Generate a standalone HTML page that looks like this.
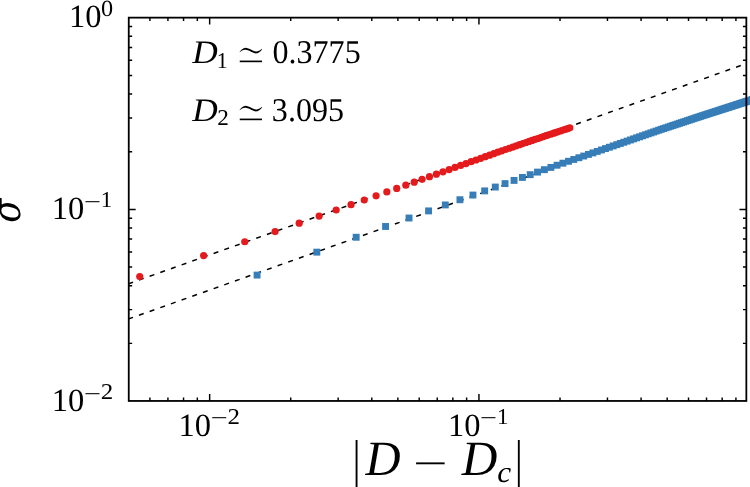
<!DOCTYPE html>
<html><head><meta charset="utf-8"><title>sigma vs |D - Dc|</title>
<style>html,body{margin:0;padding:0;background:#fff}svg{display:block}text{fill:#000;text-rendering:geometricPrecision}.r{font-family:"Liberation Serif",serif}.i{font-family:"Liberation Serif",serif;font-style:italic}.d{font-family:"Liberation Serif","DejaVu Serif","DejaVu Sans",serif}.di{font-family:"DejaVu Serif","Liberation Serif",serif;font-style:italic}</style>
</head><body>
<svg width="750" height="487" viewBox="0 0 750 487">
<rect width="750" height="487" fill="#fff"/>
<g stroke="#000" stroke-width="1.5" stroke-dasharray="5.0 6.32" fill="none">
<line x1="128.3" y1="283.88" x2="746.35" y2="63.54"/>
<line x1="128.3" y1="319.05" x2="746.35" y2="98.71"/>
</g>
<g fill="#e41a1c">
<circle cx="139.73" cy="276.50" r="3.6"/>
<circle cx="203.65" cy="255.62" r="3.6"/>
<circle cx="244.75" cy="241.77" r="3.6"/>
<circle cx="275.10" cy="231.54" r="3.6"/>
<circle cx="299.18" cy="223.21" r="3.6"/>
<circle cx="319.13" cy="216.10" r="3.6"/>
<circle cx="336.17" cy="210.02" r="3.6"/>
<circle cx="351.04" cy="204.72" r="3.6"/>
<circle cx="364.24" cy="200.02" r="3.6"/>
<circle cx="376.09" cy="195.79" r="3.6"/>
<circle cx="386.85" cy="191.95" r="3.6"/>
<circle cx="396.71" cy="188.44" r="3.6"/>
<circle cx="405.80" cy="185.18" r="3.6"/>
<circle cx="414.23" cy="182.14" r="3.6"/>
<circle cx="422.09" cy="179.31" r="3.6"/>
<circle cx="429.46" cy="176.66" r="3.6"/>
<circle cx="436.40" cy="174.16" r="3.6"/>
<circle cx="442.94" cy="171.80" r="3.6"/>
<circle cx="449.14" cy="169.57" r="3.6"/>
<circle cx="455.02" cy="167.45" r="3.6"/>
<circle cx="460.63" cy="165.45" r="3.6"/>
<circle cx="465.98" cy="163.55" r="3.6"/>
<circle cx="471.09" cy="161.72" r="3.6"/>
<circle cx="475.99" cy="159.98" r="3.6"/>
<circle cx="480.69" cy="158.30" r="3.6"/>
<circle cx="485.21" cy="156.69" r="3.6"/>
<circle cx="489.56" cy="155.14" r="3.6"/>
<circle cx="493.76" cy="153.64" r="3.6"/>
<circle cx="497.81" cy="152.20" r="3.6"/>
<circle cx="501.73" cy="150.82" r="3.6"/>
<circle cx="505.51" cy="149.52" r="3.6"/>
<circle cx="509.18" cy="148.26" r="3.6"/>
<circle cx="512.74" cy="147.03" r="3.6"/>
<circle cx="516.19" cy="145.85" r="3.6"/>
<circle cx="519.55" cy="144.69" r="3.6"/>
<circle cx="522.81" cy="143.59" r="3.6"/>
<circle cx="525.98" cy="142.51" r="3.6"/>
<circle cx="529.07" cy="141.46" r="3.6"/>
<circle cx="532.08" cy="140.44" r="3.6"/>
<circle cx="535.01" cy="139.45" r="3.6"/>
<circle cx="537.87" cy="138.48" r="3.6"/>
<circle cx="540.67" cy="137.54" r="3.6"/>
<circle cx="543.39" cy="136.62" r="3.6"/>
<circle cx="546.06" cy="135.72" r="3.6"/>
<circle cx="548.67" cy="134.84" r="3.6"/>
<circle cx="551.22" cy="133.99" r="3.6"/>
<circle cx="553.71" cy="133.14" r="3.6"/>
<circle cx="556.15" cy="132.33" r="3.6"/>
<circle cx="558.55" cy="131.54" r="3.6"/>
<circle cx="560.89" cy="130.76" r="3.6"/>
<circle cx="563.19" cy="130.00" r="3.6"/>
<circle cx="565.44" cy="129.26" r="3.6"/>
<circle cx="567.66" cy="128.53" r="3.6"/>
<circle cx="569.83" cy="127.81" r="3.6"/>
</g>
<g fill="#377eb8">
<rect x="253.62" y="271.64" width="6.9" height="6.9"/>
<rect x="313.37" y="248.69" width="6.9" height="6.9"/>
<rect x="352.72" y="233.81" width="6.9" height="6.9"/>
<rect x="382.11" y="223.03" width="6.9" height="6.9"/>
<rect x="405.58" y="214.57" width="6.9" height="6.9"/>
<rect x="425.12" y="207.45" width="6.9" height="6.9"/>
<rect x="441.85" y="201.49" width="6.9" height="6.9"/>
<rect x="456.49" y="196.27" width="6.9" height="6.9"/>
<rect x="469.50" y="191.61" width="6.9" height="6.9"/>
<rect x="481.21" y="187.42" width="6.9" height="6.9"/>
<rect x="491.85" y="183.61" width="6.9" height="6.9"/>
<rect x="501.60" y="180.15" width="6.9" height="6.9"/>
<rect x="510.60" y="176.96" width="6.9" height="6.9"/>
<rect x="518.96" y="173.99" width="6.9" height="6.9"/>
<rect x="526.76" y="171.22" width="6.9" height="6.9"/>
<rect x="534.07" y="168.65" width="6.9" height="6.9"/>
<rect x="540.95" y="166.23" width="6.9" height="6.9"/>
<rect x="547.45" y="163.95" width="6.9" height="6.9"/>
<rect x="553.61" y="161.78" width="6.9" height="6.9"/>
<rect x="559.46" y="159.75" width="6.9" height="6.9"/>
<rect x="565.03" y="157.84" width="6.9" height="6.9"/>
<rect x="570.34" y="156.01" width="6.9" height="6.9"/>
<rect x="575.43" y="154.26" width="6.9" height="6.9"/>
<rect x="580.30" y="152.59" width="6.9" height="6.9"/>
<rect x="584.98" y="150.98" width="6.9" height="6.9"/>
<rect x="589.48" y="149.44" width="6.9" height="6.9"/>
<rect x="593.81" y="147.95" width="6.9" height="6.9"/>
<rect x="597.99" y="146.51" width="6.9" height="6.9"/>
<rect x="602.02" y="145.13" width="6.9" height="6.9"/>
<rect x="605.92" y="143.79" width="6.9" height="6.9"/>
<rect x="609.70" y="142.49" width="6.9" height="6.9"/>
<rect x="613.35" y="141.22" width="6.9" height="6.9"/>
<rect x="616.89" y="140.00" width="6.9" height="6.9"/>
<rect x="620.33" y="138.81" width="6.9" height="6.9"/>
<rect x="623.68" y="137.66" width="6.9" height="6.9"/>
<rect x="626.93" y="136.54" width="6.9" height="6.9"/>
<rect x="630.09" y="135.45" width="6.9" height="6.9"/>
<rect x="633.16" y="134.38" width="6.9" height="6.9"/>
<rect x="636.16" y="133.35" width="6.9" height="6.9"/>
<rect x="639.09" y="132.34" width="6.9" height="6.9"/>
<rect x="641.94" y="131.35" width="6.9" height="6.9"/>
<rect x="644.73" y="130.39" width="6.9" height="6.9"/>
<rect x="647.45" y="129.45" width="6.9" height="6.9"/>
<rect x="650.10" y="128.53" width="6.9" height="6.9"/>
<rect x="652.70" y="127.64" width="6.9" height="6.9"/>
<rect x="655.25" y="126.76" width="6.9" height="6.9"/>
<rect x="657.73" y="125.91" width="6.9" height="6.9"/>
<rect x="660.17" y="125.11" width="6.9" height="6.9"/>
<rect x="662.56" y="124.32" width="6.9" height="6.9"/>
<rect x="664.90" y="123.54" width="6.9" height="6.9"/>
<rect x="667.19" y="122.78" width="6.9" height="6.9"/>
<rect x="669.44" y="122.03" width="6.9" height="6.9"/>
<rect x="671.65" y="121.30" width="6.9" height="6.9"/>
<rect x="673.81" y="120.58" width="6.9" height="6.9"/>
<rect x="675.94" y="119.88" width="6.9" height="6.9"/>
<rect x="678.03" y="119.19" width="6.9" height="6.9"/>
<rect x="680.08" y="118.51" width="6.9" height="6.9"/>
<rect x="682.10" y="117.84" width="6.9" height="6.9"/>
<rect x="684.08" y="117.18" width="6.9" height="6.9"/>
<rect x="686.03" y="116.54" width="6.9" height="6.9"/>
<rect x="687.94" y="115.90" width="6.9" height="6.9"/>
<rect x="689.83" y="115.27" width="6.9" height="6.9"/>
<rect x="691.69" y="114.66" width="6.9" height="6.9"/>
<rect x="693.51" y="114.05" width="6.9" height="6.9"/>
<rect x="695.31" y="113.46" width="6.9" height="6.9"/>
<rect x="697.09" y="112.87" width="6.9" height="6.9"/>
<rect x="698.83" y="112.31" width="6.9" height="6.9"/>
<rect x="700.55" y="111.76" width="6.9" height="6.9"/>
<rect x="702.25" y="111.21" width="6.9" height="6.9"/>
<rect x="703.92" y="110.67" width="6.9" height="6.9"/>
<rect x="705.56" y="110.14" width="6.9" height="6.9"/>
<rect x="707.19" y="109.62" width="6.9" height="6.9"/>
<rect x="708.79" y="109.10" width="6.9" height="6.9"/>
<rect x="710.37" y="108.59" width="6.9" height="6.9"/>
<rect x="711.93" y="108.09" width="6.9" height="6.9"/>
<rect x="713.47" y="107.60" width="6.9" height="6.9"/>
<rect x="714.99" y="107.11" width="6.9" height="6.9"/>
<rect x="716.49" y="106.62" width="6.9" height="6.9"/>
<rect x="717.97" y="106.15" width="6.9" height="6.9"/>
<rect x="719.43" y="105.67" width="6.9" height="6.9"/>
<rect x="720.87" y="105.21" width="6.9" height="6.9"/>
<rect x="722.30" y="104.75" width="6.9" height="6.9"/>
<rect x="723.71" y="104.30" width="6.9" height="6.9"/>
<rect x="725.10" y="103.85" width="6.9" height="6.9"/>
<rect x="726.48" y="103.40" width="6.9" height="6.9"/>
<rect x="727.84" y="102.97" width="6.9" height="6.9"/>
<rect x="729.18" y="102.53" width="6.9" height="6.9"/>
<rect x="730.51" y="102.10" width="6.9" height="6.9"/>
<rect x="731.83" y="101.68" width="6.9" height="6.9"/>
<rect x="733.13" y="101.26" width="6.9" height="6.9"/>
<rect x="734.41" y="100.85" width="6.9" height="6.9"/>
<rect x="735.68" y="100.44" width="6.9" height="6.9"/>
<rect x="736.94" y="100.03" width="6.9" height="6.9"/>
<rect x="738.18" y="99.63" width="6.9" height="6.9"/>
<rect x="739.41" y="99.23" width="6.9" height="6.9"/>
<rect x="740.63" y="98.84" width="6.9" height="6.9"/>
<rect x="741.84" y="98.45" width="6.9" height="6.9"/>
<rect x="743.03" y="98.07" width="6.9" height="6.9"/>
<rect x="744.21" y="97.70" width="6.9" height="6.9"/>
<rect x="745.38" y="97.33" width="6.9" height="6.9"/>
<rect x="746.54" y="96.96" width="6.9" height="6.9"/>
<rect x="747.69" y="96.60" width="6.9" height="6.9"/>
<rect x="748.82" y="96.24" width="6.9" height="6.9"/>
<rect x="749.95" y="95.88" width="6.9" height="6.9"/>
</g>
<path d="M149.91 400.95v-3.4M149.91 17.65v3.4M167.93 400.95v-3.4M167.93 17.65v3.4M183.55 400.95v-3.4M183.55 17.65v3.4M197.33 400.95v-3.4M197.33 17.65v3.4M209.65 400.95v-6.9M209.65 17.65v6.9M290.72 400.95v-3.4M290.72 17.65v3.4M338.14 400.95v-3.4M338.14 17.65v3.4M371.78 400.95v-3.4M371.78 17.65v3.4M397.88 400.95v-3.4M397.88 17.65v3.4M419.21 400.95v-3.4M419.21 17.65v3.4M437.23 400.95v-3.4M437.23 17.65v3.4M452.85 400.95v-3.4M452.85 17.65v3.4M466.63 400.95v-3.4M466.63 17.65v3.4M478.95 400.95v-6.9M478.95 17.65v6.9M560.02 400.95v-3.4M560.02 17.65v3.4M607.44 400.95v-3.4M607.44 17.65v3.4M641.08 400.95v-3.4M641.08 17.65v3.4M667.18 400.95v-3.4M667.18 17.65v3.4M688.51 400.95v-3.4M688.51 17.65v3.4M706.53 400.95v-3.4M706.53 17.65v3.4M722.15 400.95v-3.4M722.15 17.65v3.4M735.93 400.95v-3.4M735.93 17.65v3.4M128.75 343.36h3.4M746.35 343.36h-3.4M128.75 309.61h3.4M746.35 309.61h-3.4M128.75 285.67h3.4M746.35 285.67h-3.4M128.75 267.09h3.4M746.35 267.09h-3.4M128.75 251.92h3.4M746.35 251.92h-3.4M128.75 239.09h3.4M746.35 239.09h-3.4M128.75 227.97h3.4M746.35 227.97h-3.4M128.75 218.17h3.4M746.35 218.17h-3.4M128.75 209.40h6.9M746.35 209.40h-6.9M128.75 151.71h3.4M746.35 151.71h-3.4M128.75 117.96h3.4M746.35 117.96h-3.4M128.75 94.02h3.4M746.35 94.02h-3.4M128.75 75.44h3.4M746.35 75.44h-3.4M128.75 60.27h3.4M746.35 60.27h-3.4M128.75 47.44h3.4M746.35 47.44h-3.4M128.75 36.32h3.4M746.35 36.32h-3.4M128.75 26.52h3.4M746.35 26.52h-3.4" stroke="#000" stroke-width="1.45" fill="none"/>
<rect x="128.75" y="17.65" width="617.60" height="383.30" fill="none" stroke="#000" stroke-width="1.8"/>
<text x="69.04" y="26.90" font-size="32.5" class="r">10</text>
<text transform="translate(100.97 15.67) scale(1.0753 1.0295)" font-size="22.6" class="r">0</text>
<text x="51.74" y="218.90" font-size="32.5" class="r">10</text>
<text transform="translate(83.90 208.73) scale(1.3312 0.9773)" font-size="22.6" class="r">−</text>
<text transform="translate(100.68 207.20) scale(1.0181 1.0000)" font-size="22.6" class="r">1</text>
<text x="51.74" y="410.80" font-size="32.5" class="r">10</text>
<text transform="translate(83.90 400.63) scale(1.3312 0.9773)" font-size="22.6" class="r">−</text>
<text transform="translate(100.80 399.10) scale(1.1038 1.0000)" font-size="22.6" class="r">2</text>
<text x="178.54" y="435.50" font-size="32.5" class="r">10</text>
<text transform="translate(210.70 425.33) scale(1.3312 0.9773)" font-size="22.6" class="r">−</text>
<text transform="translate(227.60 423.80) scale(1.1038 1.0000)" font-size="22.6" class="r">2</text>
<text x="447.94" y="435.50" font-size="32.5" class="r">10</text>
<text transform="translate(480.10 425.33) scale(1.3312 0.9773)" font-size="22.6" class="r">−</text>
<text transform="translate(496.88 423.80) scale(1.0181 1.0000)" font-size="22.6" class="r">1</text>
<text transform="translate(192.30 62.84) scale(1.0716 0.9967)" font-size="33" class="i">D</text>
<text transform="translate(216.68 67.70) scale(0.9678 1.0000)" font-size="22.6" class="r">1</text>
<text transform="translate(234.73 72.87) scale(1.2824 1.8308)" font-size="30" class="d" stroke="#fff" stroke-width="1.390">≃</text>
<text transform="translate(272.48 63.10) scale(1 1.035)" font-size="32.1" class="r">0.3775</text>
<text transform="translate(192.30 120.54) scale(1.0716 0.9967)" font-size="33" class="i">D</text>
<text transform="translate(217.28 125.20) scale(1.0265 1.0000)" font-size="22.6" class="r">2</text>
<text transform="translate(234.73 130.57) scale(1.2824 1.8308)" font-size="30" class="d" stroke="#fff" stroke-width="1.390">≃</text>
<text transform="translate(271.86 120.80) scale(1 1.035)" font-size="32.1" class="r">3.095</text>
<text transform="translate(352.68 476.00) scale(1.0039 1.3654)" font-size="38" class="r">|</text>
<text transform="translate(365.55 475.20) scale(0.9816 0.9967)" font-size="49.5" class="i">D</text>
<text transform="translate(413.04 475.97) scale(1.5365 0.9537)" font-size="40" class="r">−</text>
<text transform="translate(461.85 475.20) scale(0.9957 0.9967)" font-size="49.5" class="i">D</text>
<text transform="translate(497.34 482.11) scale(1.0439 0.9980)" font-size="30" class="i">c</text>
<text transform="translate(514.98 476.00) scale(1.0039 1.3654)" font-size="38" class="r">|</text>
<text transform="translate(20.34 222.85) rotate(-90) scale(0.9021 1)" font-size="39.2" class="di">σ</text>
</svg></body></html>
